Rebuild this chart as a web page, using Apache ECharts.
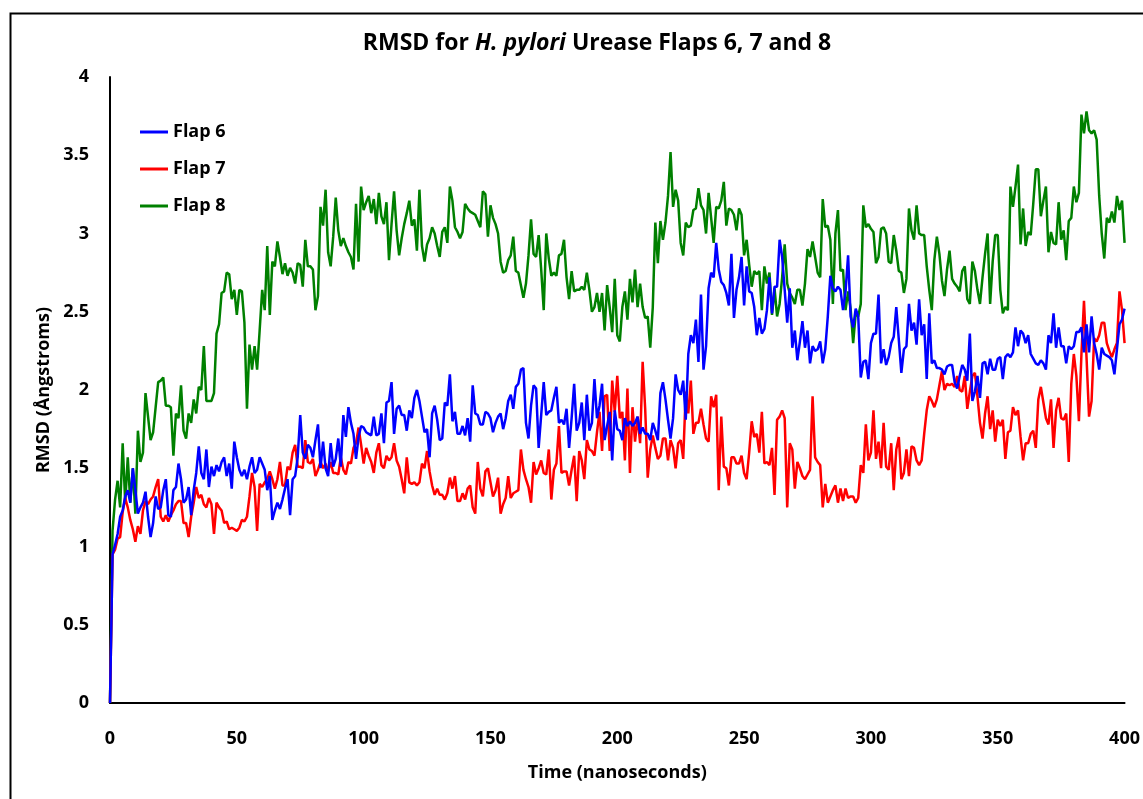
<!DOCTYPE html>
<html>
<head>
<meta charset="utf-8">
<title>RMSD for H. pylori Urease Flaps 6, 7 and 8</title>
<script src="https://cdn.jsdelivr.net/npm/echarts@6/dist/echarts.min.js"></script>
<style>
  html, body { margin: 0; padding: 0; background: #fff; }
  #chart { width: 1143px; height: 799px; }
</style>
</head>
<body>
<div id="chart"></div>
<script>
// Simulation time in nanoseconds, one frame per ns
const timeNs = Array.from({ length: 401 }, (_, i) => i);

const xTicks = [0, 50, 100, 150, 200, 250, 300, 350, 400];
const yTicks = [0, 0.5, 1, 1.5, 2, 2.5, 3, 3.5, 4];

// RMSD (Å) per flap, 0–400 ns
const flap6 = [
  0, 0.95, 1.01, 1.08, 1.19, 1.23, 1.32, 1.36, 1.28, 1.50, 1.36, 1.21, 1.25, 1.28, 1.35, 1.19, 1.06, 1.15, 1.32, 1.24,
  1.25, 1.36, 1.43, 1.20, 1.19, 1.36, 1.38, 1.53, 1.43, 1.28, 1.30, 1.38, 1.20, 1.36, 1.47, 1.64, 1.47, 1.43, 1.62, 1.38,
  1.51, 1.45, 1.52, 1.48, 1.54, 1.57, 1.45, 1.53, 1.37, 1.67, 1.57, 1.49, 1.45, 1.49, 1.43, 1.51, 1.57, 1.47, 1.49, 1.57,
  1.53, 1.49, 1.36, 1.45, 1.17, 1.23, 1.28, 1.24, 1.30, 1.37, 1.43, 1.20, 1.43, 1.45, 1.57, 1.84, 1.60, 1.56, 1.65, 1.63,
  1.57, 1.68, 1.78, 1.50, 1.67, 1.50, 1.45, 1.66, 1.51, 1.56, 1.69, 1.51, 1.84, 1.70, 1.89, 1.79, 1.72, 1.56, 1.70, 1.77,
  1.76, 1.73, 1.72, 1.71, 1.83, 1.71, 1.72, 1.85, 1.66, 1.92, 1.93, 2.05, 1.72, 1.88, 1.90, 1.84, 1.84, 1.74, 1.87, 1.82,
  1.95, 2.00, 1.93, 1.83, 1.73, 1.75, 1.57, 1.85, 1.90, 1.81, 1.68, 1.69, 1.92, 1.90, 2.10, 1.80, 1.86, 1.72, 1.72, 1.77,
  1.71, 1.82, 1.67, 2.03, 1.85, 1.84, 1.78, 1.78, 1.86, 1.85, 1.82, 1.73, 1.79, 1.83, 1.85, 1.75, 1.82, 1.93, 1.97, 1.88,
  2.02, 2.04, 2.13, 2.14, 1.79, 1.69, 1.90, 2.03, 2.01, 1.63, 1.84, 2.05, 1.84, 1.86, 1.87, 1.95, 2.02, 1.79, 1.81, 1.78,
  1.88, 1.63, 1.82, 2.04, 1.74, 1.79, 1.92, 1.68, 1.97, 1.74, 1.79, 2.07, 1.82, 1.90, 2.04, 1.68, 1.77, 1.86, 1.55, 1.87,
  1.75, 1.74, 1.68, 1.82, 1.77, 1.80, 1.77, 1.79, 1.83, 1.72, 1.76, 1.72, 1.72, 1.68, 1.79, 1.74, 1.68, 1.98, 2.05, 1.94,
  1.81, 1.69, 1.82, 2.10, 2.00, 1.97, 2.06, 1.81, 2.23, 2.35, 2.30, 2.45, 2.18, 2.61, 2.13, 2.28, 2.65, 2.75, 2.72, 2.94,
  2.77, 2.69, 2.67, 2.62, 2.54, 2.87, 2.46, 2.64, 2.72, 2.85, 2.54, 2.79, 2.63, 2.62, 2.53, 2.35, 2.46, 2.36, 2.39, 2.51,
  2.72, 2.49, 2.66, 2.66, 2.96, 2.85, 2.64, 2.43, 2.65, 2.27, 2.38, 2.19, 2.31, 2.44, 2.27, 2.38, 2.17, 2.28, 2.25, 2.26,
  2.31, 2.17, 2.26, 2.47, 2.73, 2.65, 2.63, 2.66, 2.64, 2.51, 2.63, 2.86, 2.47, 2.40, 2.52, 2.47, 2.08, 2.18, 2.19, 2.07,
  2.30, 2.36, 2.36, 2.61, 2.17, 2.26, 2.16, 2.21, 2.30, 2.34, 2.53, 2.32, 2.11, 2.26, 2.28, 2.55, 2.38, 2.43, 2.29, 2.58,
  2.35, 2.42, 2.07, 2.49, 2.17, 2.19, 2.14, 2.14, 2.13, 2.10, 2.15, 2.16, 2.16, 2.05, 2.01, 2.09, 2.16, 2.13, 2.06, 2.36,
  1.93, 1.99, 2.09, 1.95, 2.17, 2.18, 2.10, 2.20, 2.13, 2.13, 2.20, 2.21, 2.07, 2.21, 2.23, 2.21, 2.24, 2.40, 2.28, 2.38,
  2.36, 2.30, 2.35, 2.23, 2.20, 2.17, 2.16, 2.19, 2.17, 2.13, 2.35, 2.30, 2.49, 2.27, 2.40, 2.28, 2.28, 2.17, 2.28, 2.26,
  2.28, 2.37, 2.37, 2.40, 2.24, 2.42, 2.24, 2.47, 2.30, 2.23, 2.13, 2.27, 2.23, 2.22, 2.21, 2.19, 2.10, 2.26, 2.42, 2.45,
  2.52
];

const flap7 = [
  0, 0.95, 0.98, 1.05, 1.06, 1.22, 1.31, 1.25, 1.17, 1.11, 1.03, 1.13, 1.08, 1.23, 1.29, 1.27, 1.30, 1.32, 1.38, 1.43,
  1.19, 1.16, 1.20, 1.16, 1.20, 1.23, 1.27, 1.29, 1.29, 1.15, 1.15, 1.06, 1.19, 1.28, 1.38, 1.31, 1.33, 1.27, 1.25, 1.31,
  1.27, 1.08, 1.28, 1.25, 1.23, 1.15, 1.16, 1.11, 1.12, 1.11, 1.10, 1.12, 1.17, 1.16, 1.19, 1.32, 1.47, 1.38, 1.10, 1.40,
  1.38, 1.41, 1.43, 1.48, 1.43, 1.37, 1.43, 1.54, 1.39, 1.39, 1.51, 1.49, 1.60, 1.65, 1.51, 1.51, 1.50, 1.68, 1.54, 1.53,
  1.56, 1.45, 1.49, 1.54, 1.50, 1.53, 1.48, 1.54, 1.47, 1.47, 1.46, 1.57, 1.49, 1.46, 1.54, 1.53, 1.63, 1.66, 1.76, 1.65,
  1.53, 1.63, 1.58, 1.54, 1.47, 1.60, 1.66, 1.52, 1.50, 1.58, 1.55, 1.57, 1.66, 1.55, 1.51, 1.43, 1.34, 1.57, 1.41, 1.40,
  1.41, 1.39, 1.41, 1.53, 1.50, 1.61, 1.48, 1.39, 1.33, 1.37, 1.33, 1.33, 1.30, 1.34, 1.44, 1.37, 1.45, 1.29, 1.29, 1.34,
  1.30, 1.37, 1.39, 1.25, 1.21, 1.54, 1.37, 1.32, 1.48, 1.50, 1.41, 1.32, 1.36, 1.44, 1.21, 1.27, 1.31, 1.45, 1.31, 1.34,
  1.35, 1.36, 1.62, 1.49, 1.43, 1.38, 1.28, 1.54, 1.46, 1.50, 1.55, 1.47, 1.46, 1.62, 1.30, 1.49, 1.53, 1.77, 1.47, 1.48,
  1.48, 1.39, 1.49, 1.58, 1.29, 1.61, 1.55, 1.43, 1.68, 1.62, 1.61, 1.58, 1.73, 1.86, 1.61, 1.96, 1.97, 1.61, 2.06, 1.86,
  2.09, 1.82, 1.86, 1.55, 2.01, 1.47, 1.89, 1.67, 1.83, 1.66, 2.18, 1.88, 1.44, 1.62, 1.71, 1.63, 1.56, 1.58, 1.69, 1.69,
  1.55, 1.68, 1.63, 1.50, 1.66, 1.68, 1.56, 1.99, 1.85, 2.06, 1.72, 1.79, 1.79, 1.88, 1.78, 1.69, 1.67, 1.96, 1.89, 1.97,
  1.36, 1.83, 1.51, 1.50, 1.39, 1.57, 1.57, 1.53, 1.53, 1.58, 1.47, 1.43, 1.60, 1.80, 1.70, 1.72, 1.60, 1.86, 1.53, 1.54,
  1.52, 1.63, 1.33, 1.81, 1.83, 1.87, 1.82, 1.25, 1.66, 1.62, 1.37, 1.54, 1.50, 1.45, 1.43, 1.46, 1.49, 1.96, 1.57, 1.54,
  1.52, 1.25, 1.40, 1.28, 1.32, 1.36, 1.39, 1.28, 1.37, 1.29, 1.37, 1.31, 1.32, 1.32, 1.28, 1.31, 1.52, 1.47, 1.78, 1.55,
  1.60, 1.87, 1.56, 1.67, 1.50, 1.79, 1.51, 1.49, 1.66, 1.36, 1.62, 1.70, 1.43, 1.47, 1.62, 1.45, 1.64, 1.63, 1.55, 1.52,
  1.55, 1.72, 1.87, 1.96, 1.93, 1.89, 1.94, 2.03, 2.12, 2.00, 2.04, 2.03, 2.04, 2.02, 2.09, 2.00, 1.99, 2.09, 1.88, 1.99,
  2.09, 2.11, 1.96, 1.79, 1.69, 1.85, 1.96, 1.75, 1.87, 1.67, 1.81, 1.77, 1.81, 1.56, 1.73, 1.74, 1.89, 1.84, 1.87, 1.70,
  1.55, 1.66, 1.66, 1.72, 1.74, 1.63, 1.94, 2.02, 1.92, 1.82, 1.78, 1.94, 1.63, 1.87, 1.95, 1.82, 1.81, 1.85, 1.54, 2.04,
  2.23, 2.09, 1.80, 2.23, 2.57, 2.21, 1.83, 1.93, 2.33, 2.31, 2.35, 2.43, 2.43, 2.30, 2.25, 2.21, 2.26, 2.30, 2.63, 2.51,
  2.30
];

const flap8 = [
  0, 1.10, 1.30, 1.42, 1.25, 1.66, 1.28, 1.57, 1.28, 1.50, 1.21, 1.74, 1.54, 1.60, 1.98, 1.83, 1.68, 1.73, 1.89, 2.05,
  2.06, 2.08, 1.90, 1.90, 1.89, 1.58, 1.85, 1.82, 2.03, 1.74, 1.69, 1.85, 1.79, 1.94, 1.85, 2.02, 2.00, 2.28, 1.93, 1.93,
  1.93, 1.98, 2.36, 2.42, 2.62, 2.63, 2.75, 2.74, 2.58, 2.64, 2.48, 2.64, 2.63, 2.43, 1.88, 2.29, 2.13, 2.28, 2.13, 2.38,
  2.64, 2.51, 2.92, 2.48, 2.82, 2.79, 2.95, 2.85, 2.74, 2.81, 2.73, 2.78, 2.75, 2.68, 2.81, 2.80, 2.66, 2.96, 2.79, 2.79,
  2.77, 2.51, 2.60, 3.17, 3.05, 3.28, 2.88, 2.79, 2.98, 3.23, 3.02, 2.92, 2.97, 2.92, 2.88, 2.85, 2.77, 3.19, 2.82, 3.30,
  3.15, 3.20, 3.24, 3.13, 3.22, 3.06, 3.26, 3.11, 3.06, 3.20, 2.83, 3.06, 3.27, 3.02, 2.86, 2.97, 3.06, 3.13, 3.21, 3.05,
  3.09, 2.89, 3.28, 2.92, 2.82, 2.93, 2.97, 3.04, 3.00, 2.92, 2.85, 3.01, 3.04, 2.94, 3.30, 3.21, 3.04, 3.01, 2.97, 3.01,
  3.19, 3.16, 3.14, 3.13, 3.12, 3.08, 3.04, 3.27, 3.25, 2.98, 3.18, 3.10, 3.06, 3.00, 2.82, 2.75, 2.76, 2.83, 2.86, 2.98,
  2.76, 2.75, 2.67, 2.59, 2.68, 2.86, 3.09, 2.87, 2.85, 2.99, 2.77, 2.51, 3.00, 2.84, 2.73, 2.75, 2.73, 2.86, 2.87, 2.96,
  2.72, 2.58, 2.76, 2.63, 2.64, 2.64, 2.66, 2.64, 2.75, 2.64, 2.50, 2.53, 2.62, 2.50, 2.62, 2.38, 2.67, 2.53, 2.37, 2.71,
  2.35, 2.31, 2.53, 2.63, 2.45, 2.71, 2.56, 2.77, 2.53, 2.68, 2.53, 2.46, 2.47, 2.27, 2.53, 3.07, 2.81, 3.08, 2.96, 3.07,
  3.24, 3.52, 3.17, 3.28, 3.21, 2.94, 2.86, 3.07, 3.04, 3.05, 3.15, 3.16, 3.29, 3.18, 3.15, 3.00, 3.26, 3.10, 2.94, 3.17,
  3.16, 3.21, 3.33, 3.05, 3.16, 3.15, 3.12, 3.02, 3.16, 3.12, 2.86, 2.96, 2.80, 2.66, 2.76, 2.74, 2.76, 2.51, 2.79, 2.68,
  2.75, 2.48, 2.65, 2.47, 2.55, 2.72, 2.93, 2.68, 2.62, 2.59, 2.55, 2.64, 2.64, 2.54, 2.68, 2.90, 2.85, 2.95, 2.85, 2.75,
  2.72, 3.22, 3.04, 3.05, 2.96, 2.55, 3.00, 3.15, 2.76, 2.77, 2.51, 2.63, 2.52, 2.30, 2.49, 2.47, 2.55, 3.18, 3.04, 3.06,
  3.03, 3.01, 2.81, 2.85, 3.03, 3.04, 3.00, 2.82, 2.81, 2.99, 2.89, 2.76, 2.75, 2.62, 2.71, 3.16, 3.02, 2.96, 3.18, 3.00,
  2.99, 2.99, 2.79, 2.64, 2.51, 2.83, 2.98, 2.87, 2.70, 2.60, 2.77, 2.89, 2.71, 2.68, 2.66, 2.63, 2.76, 2.79, 2.58, 2.55,
  2.82, 2.76, 2.64, 2.55, 2.72, 2.87, 3.00, 2.55, 2.82, 2.99, 2.99, 2.64, 2.49, 2.53, 2.51, 3.30, 3.17, 3.30, 3.44, 2.93,
  3.16, 2.92, 3.01, 2.99, 3.19, 3.41, 3.41, 3.11, 3.21, 3.30, 2.88, 3.01, 2.94, 2.93, 3.20, 2.96, 3.02, 2.83, 3.08, 3.10,
  3.30, 3.20, 3.26, 3.76, 3.64, 3.78, 3.66, 3.64, 3.66, 3.60, 3.24, 3.00, 2.84, 3.10, 3.07, 3.14, 3.07, 3.24, 3.15, 3.21,
  2.94
];

const seriesNames = ['Flap 6', 'Flap 7', 'Flap 8'];
const seriesColors = ['#0000ff', '#ff0000', '#008000'];
const seriesValues = [flap6, flap7, flap8];

const FONT = '"Open Sans", "Noto Sans", "Liberation Sans", sans-serif';

const chart = echarts.init(document.getElementById('chart'), null, { renderer: 'canvas' });

const option = {
  backgroundColor: '#ffffff',
  animation: false,
  title: {
    text: '{b|RMSD for }{i|H. pylori}{b| Urease Flaps 6, 7 and 8}',
    left: 592,
    top: 27,
    textAlign: 'center',
    textStyle: {
      rich: {
        b: { fontFamily: FONT, fontWeight: 'bold', fontSize: 23, color: '#000' },
        i: { fontFamily: FONT, fontWeight: 'bold', fontStyle: 'italic', fontSize: 23, color: '#000' }
      }
    }
  },
  legend: {
    orient: 'vertical',
    left: 135,
    top: 117,
    icon: 'rect',
    itemWidth: 28,
    itemHeight: 3,
    itemGap: 17,
    data: seriesNames,
    textStyle: { fontFamily: FONT, fontWeight: 'bold', fontSize: 18, color: '#000', lineHeight: 20 }
  },
  grid: { left: 110, right: 18, top: 77, bottom: 96, containLabel: false },
  xAxis: {
    type: 'value',
    min: xTicks[0],
    max: xTicks[xTicks.length - 1],
    interval: xTicks[1] - xTicks[0],
    name: 'Time (nanoseconds)',
    nameLocation: 'middle',
    nameGap: 61,
    nameTextStyle: { fontFamily: FONT, fontWeight: 'bold', fontSize: 18, color: '#000' },
    axisLine: { show: true, onZero: false, lineStyle: { color: '#000', width: 2 } },
    axisTick: { show: false },
    splitLine: { show: false },
    axisLabel: { margin: 27, fontFamily: FONT, fontWeight: 'bold', fontSize: 18, color: '#000' }
  },
  yAxis: {
    type: 'value',
    min: yTicks[0],
    max: yTicks[yTicks.length - 1],
    interval: yTicks[1] - yTicks[0],
    name: 'RMSD (Ångstroms)',
    nameLocation: 'middle',
    nameGap: 56,
    nameTextStyle: { fontFamily: FONT, fontWeight: 'bold', fontSize: 18, color: '#000' },
    axisLine: { show: true, lineStyle: { color: '#000', width: 2 } },
    axisTick: { show: false },
    splitLine: { show: false },
    axisLabel: { margin: 21, fontFamily: FONT, fontWeight: 'bold', fontSize: 18, color: '#000' }
  },
  graphic: [{
    type: 'rect',
    left: 8,
    top: 11,
    shape: { width: 1300, height: 900 },
    style: { fill: 'none', stroke: '#000', lineWidth: 2 },
    silent: true,
    z: 100
  }],
  series: seriesNames.map((name, k) => ({
    name,
    type: 'line',
    data: timeNs.map((t, i) => [t, seriesValues[k][i]]),
    showSymbol: false,
    symbol: 'none',
    smooth: false,
    color: seriesColors[k],
    lineStyle: { color: seriesColors[k], width: 2.5 },
    z: 3 - k
  }))
};

chart.setOption(option);
</script>
</body>
</html>
